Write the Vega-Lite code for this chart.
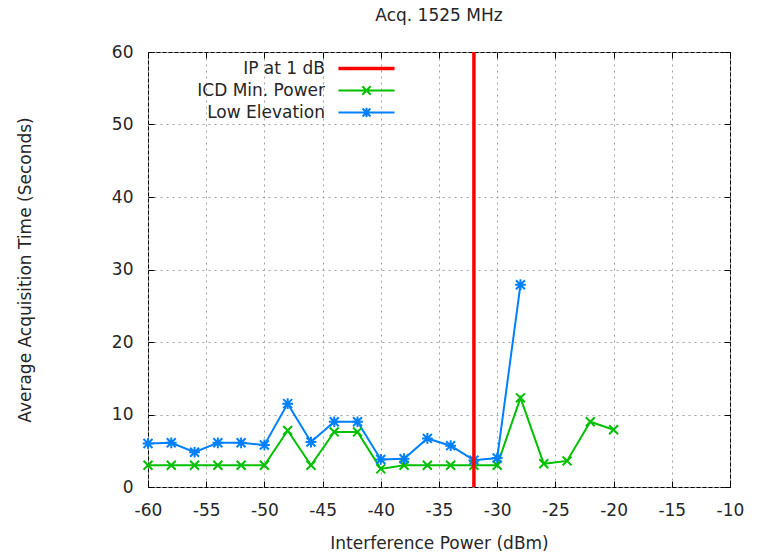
{
  "$schema": "https://vega.github.io/schema/vega-lite/v6.json",
  "width": 582,
  "height": 435,
  "autosize": {"type": "none"},
  "padding": {"left": 148, "top": 52, "right": 29, "bottom": 70},
  "background": "white",
  "title": {"text": "Acq. 1525 MHz", "fontSize": 17, "font": "DejaVu Sans", "fontWeight": "normal", "color": "#262626", "offset": 18, "anchor": "middle"},
  "config": {
    "font": "DejaVu Sans",
    "view": {"stroke": "#000000", "strokeWidth": 1},
    "axis": {
      "labelFont": "DejaVu Sans", "labelFontSize": 17, "labelColor": "#262626",
      "titleFont": "DejaVu Sans", "titleFontSize": 17, "titleColor": "#262626", "titleFontWeight": "normal",
      "gridColor": "#a0a0a0", "gridDash": [2, 4], "gridWidth": 1,
      "domain": false, "tickColor": "#000000", "tickSize": -6, "tickWidth": 1, "labelFlush": false
    }
  },
  "datasets": {
    "series": [
      {"p": -60, "t": 3.0, "s": "ICD Min. Power"},
      {"p": -58, "t": 3.0, "s": "ICD Min. Power"},
      {"p": -56, "t": 3.0, "s": "ICD Min. Power"},
      {"p": -54, "t": 3.0, "s": "ICD Min. Power"},
      {"p": -52, "t": 3.0, "s": "ICD Min. Power"},
      {"p": -50, "t": 3.0, "s": "ICD Min. Power"},
      {"p": -48, "t": 7.8, "s": "ICD Min. Power"},
      {"p": -46, "t": 3.0, "s": "ICD Min. Power"},
      {"p": -44, "t": 7.6, "s": "ICD Min. Power"},
      {"p": -42, "t": 7.6, "s": "ICD Min. Power"},
      {"p": -40, "t": 2.5, "s": "ICD Min. Power"},
      {"p": -38, "t": 3.0, "s": "ICD Min. Power"},
      {"p": -36, "t": 3.0, "s": "ICD Min. Power"},
      {"p": -34, "t": 3.0, "s": "ICD Min. Power"},
      {"p": -32, "t": 3.0, "s": "ICD Min. Power"},
      {"p": -30, "t": 3.0, "s": "ICD Min. Power"},
      {"p": -28, "t": 12.3, "s": "ICD Min. Power"},
      {"p": -26, "t": 3.2, "s": "ICD Min. Power"},
      {"p": -24, "t": 3.6, "s": "ICD Min. Power"},
      {"p": -22, "t": 9.0, "s": "ICD Min. Power"},
      {"p": -20, "t": 7.9, "s": "ICD Min. Power"},
      {"p": -60, "t": 6.0, "s": "Low Elevation"},
      {"p": -58, "t": 6.1, "s": "Low Elevation"},
      {"p": -56, "t": 4.8, "s": "Low Elevation"},
      {"p": -54, "t": 6.1, "s": "Low Elevation"},
      {"p": -52, "t": 6.1, "s": "Low Elevation"},
      {"p": -50, "t": 5.8, "s": "Low Elevation"},
      {"p": -48, "t": 11.5, "s": "Low Elevation"},
      {"p": -46, "t": 6.2, "s": "Low Elevation"},
      {"p": -44, "t": 9.0, "s": "Low Elevation"},
      {"p": -42, "t": 9.0, "s": "Low Elevation"},
      {"p": -40, "t": 3.8, "s": "Low Elevation"},
      {"p": -38, "t": 3.9, "s": "Low Elevation"},
      {"p": -36, "t": 6.7, "s": "Low Elevation"},
      {"p": -34, "t": 5.7, "s": "Low Elevation"},
      {"p": -32, "t": 3.7, "s": "Low Elevation"},
      {"p": -30, "t": 4.0, "s": "Low Elevation"},
      {"p": -28, "t": 27.9, "s": "Low Elevation"}
    ],
    "ip": [{"p": -32, "s": "IP at 1 dB"}]
  },
  "encoding": {
    "color": {"field": "s", "type": "nominal",
      "scale": {"domain": ["IP at 1 dB", "ICD Min. Power", "Low Elevation"], "range": ["#ff0000", "#00c000", "#0080ff"]},
      "legend": {
        "title": null, "orient": "none", "legendX": 210, "legendY": 8,
        "labelFont": "DejaVu Sans", "labelFontSize": 17, "labelColor": "#262626",
        "symbolType": "M-3,0H3", "symbolSize": 350, "symbolStrokeWidth": 2, "symbolFillColor": "transparent",
        "rowPadding": 4,
        "encode": {
          "labels": {"update": {"x": {"value": -33}, "align": {"value": "right"}}},
          "symbols": {"update": {
            "shape": {"signal": "datum.value === 'IP at 1 dB' ? 'M-3,0H3' : (datum.value === 'ICD Min. Power' ? 'M-3,0H3M-0.45,-0.45L0.45,0.45M-0.45,0.45L0.45,-0.45' : 'M-3,0H3M-0.42,-0.42L0.42,0.42M-0.42,0.42L0.42,-0.42M0,-0.5V0.5')"},
            "strokeWidth": {"signal": "datum.value === 'IP at 1 dB' ? 3.5 : 2"},
            "fill": {"value": "transparent"}
          }}
        }
      }
    }
  },
  "layer": [
    {
      "data": {"name": "series"},
      "mark": {"type": "line", "strokeWidth": 2},
      "encoding": {
        "x": {"field": "p", "type": "quantitative", "scale": {"domain": [-60, -10], "nice": false, "zero": false},
          "axis": {"title": "Interference Power (dBm)", "grid": true, "values": [-60, -55, -50, -45, -40, -35, -30, -25, -20, -15, -10], "labelExpr": "datum.value + ''", "labelPadding": 21, "titleY": 48}},
        "y": {"field": "t", "type": "quantitative", "scale": {"domain": [0, 60], "nice": false},
          "axis": {"title": "Average Acquisition Time (Seconds)", "grid": true, "values": [0, 10, 20, 30, 40, 50, 60], "labelPadding": 21, "titleX": -114}}
      }
    },
    {
      "data": {"name": "series"},
      "mark": {"type": "point", "filled": false, "strokeWidth": 2, "size": 80, "opacity": 1},
      "encoding": {
        "x": {"field": "p", "type": "quantitative", "axis": null},
        "y": {"field": "t", "type": "quantitative", "axis": null},
        "shape": {"field": "s", "type": "nominal", "legend": null,
          "scale": {"domain": ["ICD Min. Power", "Low Elevation"], "range": ["M-1,-1L1,1M-1,1L1,-1", "M-1,-1L1,1M-1,1L1,-1M-1.2,0H1.2M0,-1.2V1.2"]}}
      }
    },
    {
      "data": {"name": "ip"},
      "mark": {"type": "rule", "strokeWidth": 3.5},
      "encoding": {
        "x": {"field": "p", "type": "quantitative", "axis": null}
      }
    },
    {
      "data": {"name": "series"},
      "mark": {"type": "point", "opacity": 0},
      "encoding": {
        "x": {"field": "p", "type": "quantitative",
          "axis": {"orient": "top", "title": null, "labels": false, "grid": false, "values": [-60, -55, -50, -45, -40, -35, -30, -25, -20, -15, -10]}},
        "y": {"field": "t", "type": "quantitative",
          "axis": {"orient": "right", "title": null, "labels": false, "grid": false, "values": [0, 10, 20, 30, 40, 50, 60]}},
        "color": {"value": "transparent"}
      }
    }
  ],
  "resolve": {"axis": {"x": "independent", "y": "independent"}}
}
